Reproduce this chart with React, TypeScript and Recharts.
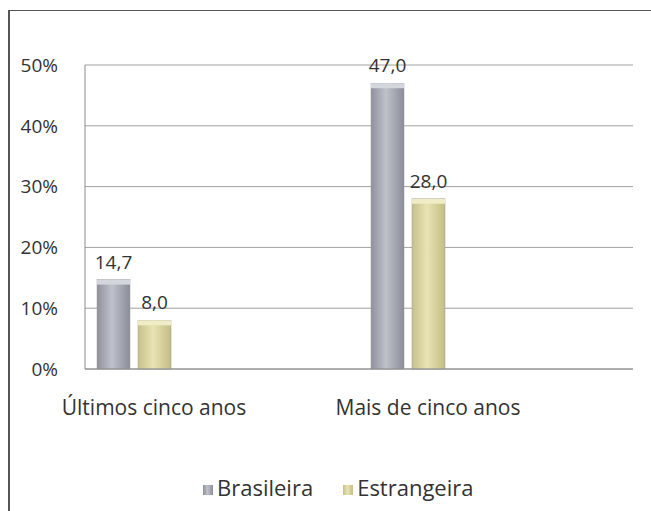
import React from 'react';
import { BarChart, Bar, XAxis, YAxis, CartesianGrid, Legend, LabelList } from 'recharts';

const categories = ['Últimos cinco anos', 'Mais de cinco anos'];
const brasileira = [14.7, 47.0];
const estrangeira = [8.0, 28.0];
const yTicks = [0, 10, 20, 30, 40, 50];

const data = categories.map((c, i) => ({ name: c, Brasileira: brasileira[i], Estrangeira: estrangeira[i] }));

const FONT = '"Open Sans", sans-serif';

const Bar3D = (props: any) => {
  const { x, y, width, height, fill, capFill } = props;
  if (height <= 0) return null;
  return (
    <g>
      <rect x={x} y={y} width={width} height={height} fill={fill} stroke="#9a9a9a" strokeWidth={0.5} />
      <rect x={x} y={y} width={width} height={5} fill={capFill} />
    </g>
  );
};

const fmt = (v: any) => Number(v).toFixed(1).replace('.', ',');

export default function App() {
  return (
    <div style={{ position: 'absolute', left: 0, top: 0, width: 651, height: 511, background: '#fff', overflow: 'hidden' }}>
      <div style={{ position: 'absolute', left: 8, top: 10, width: 660, height: 520, borderLeft: '2px solid #555', borderTop: '1px solid #555' }} />
      <div style={{ position: 'absolute', left: 0, top: 0 }}>
        <BarChart
          width={651}
          height={511}
          data={data}
          margin={{ top: 65, right: 18, left: 0, bottom: 8 }}
          barSize={33}
          barGap={8}
        >
          <defs>
            <linearGradient id="gBr" x1="0" y1="0" x2="1" y2="0">
              <stop offset="0%" stopColor="#8e919d" />
              <stop offset="45%" stopColor="#bfc1cb" />
              <stop offset="100%" stopColor="#8a8d99" />
            </linearGradient>
            <linearGradient id="gEs" x1="0" y1="0" x2="1" y2="0">
              <stop offset="0%" stopColor="#c6c08a" />
              <stop offset="45%" stopColor="#e8e3b2" />
              <stop offset="100%" stopColor="#c3bd86" />
            </linearGradient>
          </defs>
          <CartesianGrid vertical={false} stroke="#a0a0a0" strokeWidth={1} />
          <XAxis
            dataKey="name"
            padding={{ left: -88, right: 88 }}
            axisLine={{ stroke: '#8c8c8c' }}
            tickLine={false}
            tick={{ fill: '#333', fontSize: 21, fontFamily: FONT, dx: 20 }}
            tickMargin={25}
            height={104}
            interval={0}
          />
          <YAxis
            domain={[0, 50]}
            ticks={yTicks}
            tickFormatter={(v) => `${v}%`}
            width={85}
            axisLine={{ stroke: '#8c8c8c' }}
            tickLine={false}
            tickMargin={21}
            tick={{ fill: '#333', fontSize: 19, fontFamily: FONT }}
          />
          <YAxis
            yAxisId="right"
            orientation="right"
            domain={[0, 50]}
            width={0}
            tick={false}
            tickLine={false}
            axisLine={{ stroke: '#777', strokeWidth: 2 }}
          />
          <Legend
            verticalAlign="bottom"
            align="left"
            iconType="square"
            iconSize={10}
            wrapperStyle={{ fontFamily: FONT, fontSize: 22, top: 472, left: 203, width: 420 }}
            formatter={(v: any) => <span style={{ color: '#333', marginRight: 20 }}>{v}</span>}
          />
          <Bar dataKey="Brasileira" fill="url(#gBr)" isAnimationActive={false} shape={(p: any) => <Bar3D {...p} capFill="#d4d6de" />}>
            <LabelList dataKey="Brasileira" position="top" offset={11} formatter={fmt} style={{ fill: '#333', fontSize: 19, fontFamily: FONT }} />
          </Bar>
          <Bar dataKey="Estrangeira" fill="url(#gEs)" isAnimationActive={false} shape={(p: any) => <Bar3D {...p} capFill="#f0ecc6" />}>
            <LabelList dataKey="Estrangeira" position="top" offset={11} formatter={fmt} style={{ fill: '#333', fontSize: 19, fontFamily: FONT }} />
          </Bar>
        </BarChart>
      </div>
    </div>
  );
}
